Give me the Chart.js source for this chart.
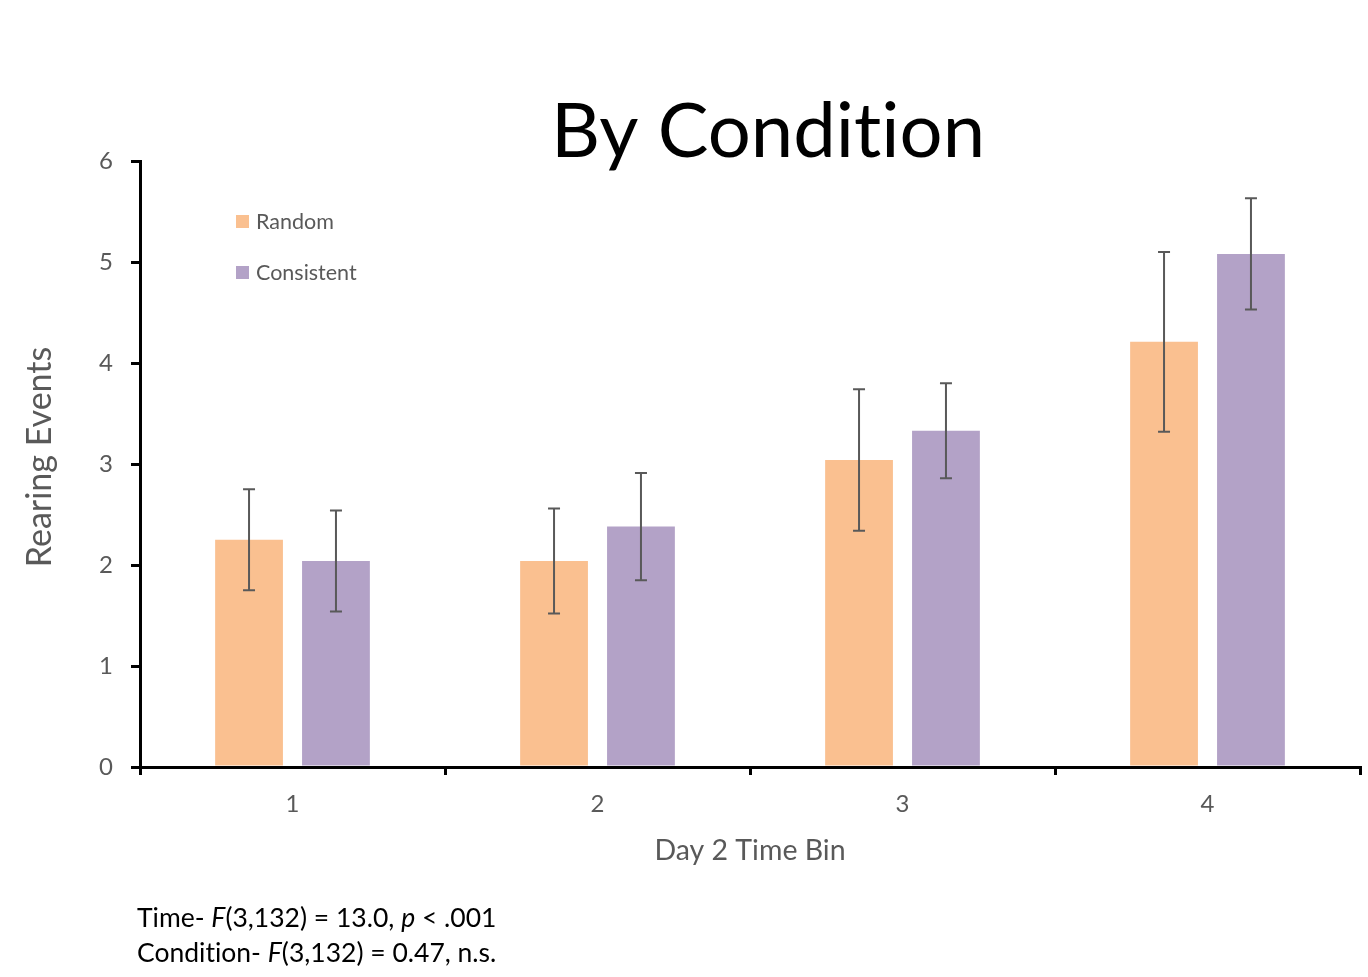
<!DOCTYPE html>
<html>
<head>
<meta charset="utf-8">
<script src="https://cdn.jsdelivr.net/npm/chart.js@4.4.1/dist/chart.umd.min.js"></script>
<style>
  html, body { margin: 0; padding: 0; background: #fff; }
  #wrap { position: relative; width: 1368px; height: 977px; }
  #notes { position: absolute; left: 137px; top: 900px; font-family: Lato, sans-serif; font-size: 26.5px; line-height: 35px; color: #000; font-variant-ligatures: none; }
</style>
</head>
<body>
<div id="wrap">
  <canvas id="chartRearing" width="1368" height="977"></canvas>
  <div id="notes">
    Time- <i>F</i>(3,132) = 13.0, <i>p</i> &lt; .001<br>
    Condition- <i>F</i>(3,132) = 0.47, n.s.
  </div>
</div>
<script>
var bins = ['1', '2', '3', '4'];
var randomMeans = [2.25, 2.04, 3.04, 4.21];
var randomErr = [0.50, 0.52, 0.70, 0.89];
var consistentMeans = [2.04, 2.38, 3.33, 5.08];
var consistentErr = [0.50, 0.53, 0.47, 0.55];
var yTicks = [0, 1, 2, 3, 4, 5, 6];

var grey = '#595959';
var font = 'Lato, sans-serif';

// error bars + title + legend + axis titles
var extras = {
    id: 'extras',
    afterDatasetsDraw: function(chart) {
        var ctx = chart.ctx;
        var y = chart.scales.y;
        ctx.save();
        ctx.strokeStyle = grey;
        ctx.lineWidth = 2;
        chart.data.datasets.forEach(function(ds, di) {
            var meta = chart.getDatasetMeta(di);
            meta.data.forEach(function(bar, i) {
                var top = y.getPixelForValue(ds.data[i] + ds.errors[i]);
                var bot = y.getPixelForValue(ds.data[i] - ds.errors[i]);
                ctx.beginPath();
                ctx.moveTo(bar.x, top); ctx.lineTo(bar.x, bot);
                ctx.moveTo(bar.x - 6, top); ctx.lineTo(bar.x + 6, top);
                ctx.moveTo(bar.x - 6, bot); ctx.lineTo(bar.x + 6, bot);
                ctx.stroke();
            });
        });
        ctx.restore();
    },
    afterDraw: function(chart) {
        var ctx = chart.ctx;
        ctx.save();
        ctx.fillStyle = '#000';
        ctx.font = '76px ' + font;
        ctx.textAlign = 'center';
        ctx.textBaseline = 'alphabetic';
        // zero-width non-joiner keeps "t" and "i" apart (no ligature)
        ctx.fillText('By Condit\u200Cion', 768, 157);

        // legend
        ctx.font = '21.5px ' + font;
        ctx.textAlign = 'left';
        ctx.textBaseline = 'middle';
        chart.data.datasets.forEach(function(ds, di) {
            var ly = 222 + di * 51;
            ctx.fillStyle = ds.backgroundColor;
            ctx.fillRect(236, ly - 7, 13, 13);
            ctx.fillStyle = grey;
            ctx.fillText(ds.label, 256, ly);
        });

        // axis titles
        ctx.fillStyle = grey;
        ctx.font = '28.5px ' + font;
        ctx.textAlign = 'center';
        ctx.fillText('Day 2 Time Bin', 750, 851);
        ctx.translate(40, 457);
        ctx.rotate(-Math.PI / 2);
        ctx.font = '34px ' + font;
        ctx.fillText('Rearing Events', 0, 0);
        ctx.restore();
    }
};

var ctx = document.getElementById('chartRearing').getContext('2d');
var chart = new Chart(ctx, {
    type: 'bar',
    data: {
        labels: bins,
        datasets: [{
            label: 'Random',
            backgroundColor: '#FAC090',
            data: randomMeans,
            errors: randomErr
        }, {
            label: 'Consistent',
            backgroundColor: '#B3A2C7',
            data: consistentMeans,
            errors: consistentErr
        }]
    },
    options: {
        responsive: false,
        animation: false,
        categoryPercentage: 0.57,
        barPercentage: 0.78,
        layout: { padding: { top: 161, right: 8, left: 0, bottom: 0 } },
        plugins: {
            legend: { display: false },
            title: { display: false },
            tooltip: { enabled: false }
        },
        scales: {
            x: {
                afterFit: function(s) { s.height = 210; },
                border: { color: '#000', width: 3 },
                grid: { drawOnChartArea: false, drawTicks: true, tickLength: 8, tickColor: '#000', lineWidth: 3 },
                ticks: { color: grey, font: { family: font, size: 24 }, padding: 15 }
            },
            y: {
                min: 0,
                max: 6,
                afterFit: function(s) { s.width = 140; },
                afterBuildTicks: function(s) { s.ticks = yTicks.map(function(v) { return { value: v }; }); },
                border: { color: '#000', width: 3 },
                grid: { drawOnChartArea: false, drawTicks: true, tickLength: 9, tickColor: '#000', lineWidth: 3 },
                ticks: { color: grey, font: { family: font, size: 24 }, padding: 18 }
            }
        }
    },
    plugins: [extras]
});
</script>
</body>
</html>
